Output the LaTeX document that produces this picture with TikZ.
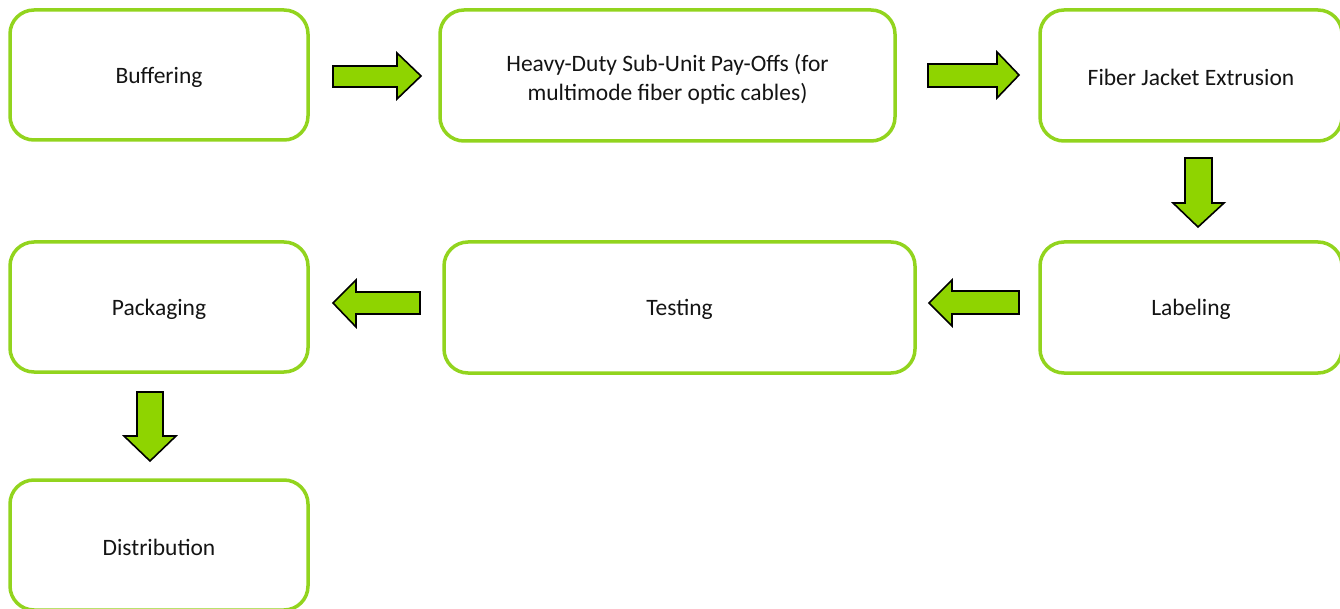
\documentclass[tikz,border=0pt]{standalone}
\usepackage{fontspec}
\setmainfont{Carlito}
\definecolor{boxgreen}{RGB}{146,212,30}
\definecolor{arrgreen}{RGB}{143,212,0}
\definecolor{txt}{RGB}{20,20,20}
\begin{document}
\begin{tikzpicture}[x=1pt,y=-1pt,
  stepbox/.style={draw=boxgreen,line width=3.5pt,rounded corners=24pt,fill=white,inner sep=0pt},
  lbl/.style={text=txt,font=\fontsize{23.5}{29.5}\selectfont,align=center,inner sep=0pt},
  blockarrow/.style={draw=black,line width=1.6pt,fill=arrgreen,line join=miter}]
\useasboundingbox (0,0) rectangle (1340,609);
% boxes
\node[stepbox,minimum width=298pt,minimum height=130pt] (buf) at (159,75) {};
\node[stepbox,minimum width=455pt,minimum height=131pt] (heavy) at (667.5,75.5) {};
\node[stepbox,minimum width=302pt,minimum height=131pt] (fiber) at (1191,75.5) {};
\node[stepbox,minimum width=302pt,minimum height=131pt] (label) at (1191,307.5) {};
\node[stepbox,minimum width=471pt,minimum height=131pt] (test) at (679.5,307.5) {};
\node[stepbox,minimum width=298pt,minimum height=130pt] (pack) at (159,307) {};
\node[stepbox,minimum width=298pt,minimum height=130pt] (dist) at (159,545) {};
% labels
\node[lbl] (tbuf) at ([yshift=-2pt]buf.center) {Buffering};
\node[lbl] (theavy) at ([yshift=-4pt]heavy.center) {Heavy-Duty Sub-Unit Pay-Offs (for\\multimode fiber optic cables)};
\node[lbl] (tfiber) at ([yshift=-2pt]fiber.center) {Fiber Jacket Extrusion};
\node[lbl] (tlabel) at ([yshift=-2pt]label.center) {Labeling};
\node[lbl] (ttest) at ([yshift=-2pt]test.center) {Testing};
\node[lbl] (tpack) at ([yshift=-2pt]pack.center) {Packaging};
\node[lbl] (tdist) at ([yshift=-2pt]dist.center) {Distribution};
% block arrows
\draw[blockarrow] (333,66) -- (397,66) -- (397,53) -- (421,76) -- (397,99) -- (397,87) -- (333,87) -- cycle;
\draw[blockarrow] (928,64) -- (997,64) -- (997,52) -- (1019,75) -- (997,98) -- (997,87) -- (928,87) -- cycle;
\draw[blockarrow] (1185,158) -- (1212,158) -- (1212,203) -- (1224,203) -- (1198,227) -- (1173,203) -- (1185,203) -- cycle;
\draw[blockarrow] (1019,291) -- (952,291) -- (952,280) -- (929,303) -- (952,326) -- (952,314) -- (1019,314) -- cycle;
\draw[blockarrow] (420,292) -- (356,292) -- (356,280) -- (333,303) -- (356,327) -- (356,314) -- (420,314) -- cycle;
\draw[blockarrow] (137,392) -- (163,392) -- (163,436) -- (176,436) -- (150,461) -- (124,436) -- (137,436) -- cycle;
\end{tikzpicture}
\end{document}
